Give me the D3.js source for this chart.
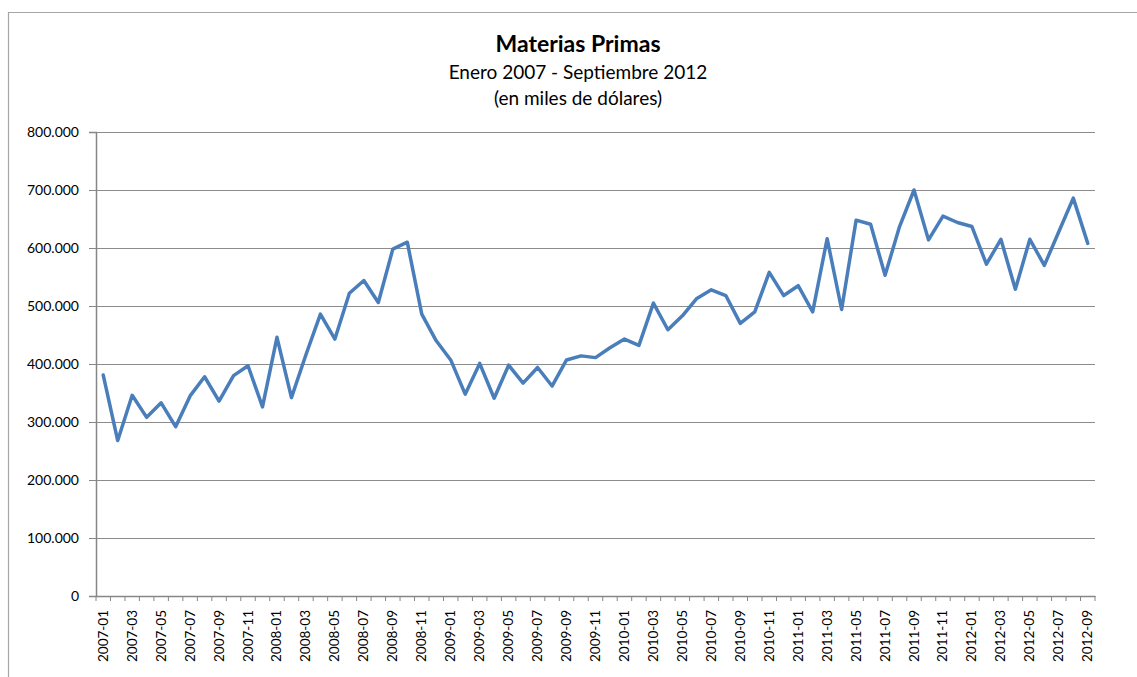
<!DOCTYPE html>
<html><head><meta charset="utf-8">
<script src="https://cdn.jsdelivr.net/npm/d3@7"></script>
<style>body{margin:0;background:#fff;}svg{display:block;font-family:Lato,"Open Sans",sans-serif;}</style>
</head><body>
<svg id="c" width="1137" height="677"></svg>
<script>
const months = [];
for (let y = 2007; y <= 2012; y++) for (let m = 1; m <= 12; m++) { if (y === 2012 && m > 9) break; months.push(y + "-" + String(m).padStart(2, "0")); }
const values = [381,268,346,308,333,292,345,378,336,380,397,326,446,342,416,486,443,522,544,506,598,610,486,440,407,348,401,341,398,367,394,362,407,414,411,428,443,432,505,459,483,513,528,518,470,490,558,518,535,490,616,494,648,641,553,637,700,614,655,644,637,572,615,529,615,570,628,686,608];
const yTicks = [0,100000,200000,300000,400000,500000,600000,700000,800000];
const titleLines = ["Materias Primas","Enero 2007 - Septiembre 2012","(en miles de dólares)"];

const svg = d3.select("#c");
const L = 96, R = 1095, T = 132, B = 596;
// outer border
svg.append("path").attr("d","M8.5,680 V12.5 H1140").attr("fill","none").attr("stroke","#a6a6a6").attr("stroke-width",1.2);

const x = d3.scaleBand().domain(months).range([L, R]);
const y = d3.scaleLinear().domain([0, 800000]).range([B, T]);
const fmt = v => d3.format(",")(v).replace(/,/g, ".");

// gridlines
svg.append("g").selectAll("line").data(yTicks.slice(1)).join("line")
  .attr("x1", L).attr("x2", R).attr("y1", d => Math.round(y(d)) + 0.5).attr("y2", d => Math.round(y(d)) + 0.5)
  .attr("stroke", "#8c8c8c").attr("stroke-width", 1);

// y axis
const ya = svg.append("g").attr("transform", `translate(${L},0)`)
  .call(d3.axisLeft(y).tickValues(yTicks).tickFormat(fmt).tickSize(7).tickPadding(10));
ya.select(".domain").attr("stroke", "#868686").attr("stroke-width", 1.5);
ya.selectAll(".tick line").attr("stroke", "#868686");
ya.selectAll("text").attr("font-size", 14).attr("fill", "#000").attr("font-family", "Lato");

// x axis
const xa = svg.append("g").attr("transform", `translate(0,${B})`)
  .call(d3.axisBottom(x).tickValues([]).tickSize(0));
xa.select(".domain").attr("stroke", "#868686").attr("stroke-width", 1.5);
// boundary tick marks
svg.append("g").selectAll("line").data(months.concat(["end"])).join("line")
  .attr("x1", (d,i) => L + i * x.step()).attr("x2", (d,i) => L + i * x.step())
  .attr("y1", B).attr("y2", B + 5).attr("stroke", "#868686");
// labels every other
svg.append("g").selectAll("text").data(months.filter((d,i) => i % 2 === 0)).join("text")
  .attr("transform", d => `translate(${x(d) + x.bandwidth()/2 + 4.5},${B + 14}) rotate(-90)`)
  .attr("text-anchor", "end").attr("font-size", 13.5).attr("fill", "#000").text(d => d);

// line
const line = d3.line().x((d,i) => x(months[i]) + x.bandwidth()/2).y(d => y(d * 1000));
svg.append("path").datum(values).attr("d", line).attr("fill", "none")
  .attr("stroke", "#4a7ebb").attr("stroke-width", 3.5).attr("stroke-linejoin", "round").attr("stroke-linecap", "round");

// titles
const tcx = 578;
svg.append("text").attr("x", tcx).attr("y", 52).attr("text-anchor", "middle").attr("font-size", 23).attr("font-weight", "bold").text(titleLines[0]);
svg.append("text").attr("x", tcx).attr("y", 79).attr("text-anchor", "middle").attr("font-size", 19).text(titleLines[1]);
svg.append("text").attr("x", tcx).attr("y", 105).attr("text-anchor", "middle").attr("font-size", 19).text(titleLines[2]);
</script>
</body></html>
